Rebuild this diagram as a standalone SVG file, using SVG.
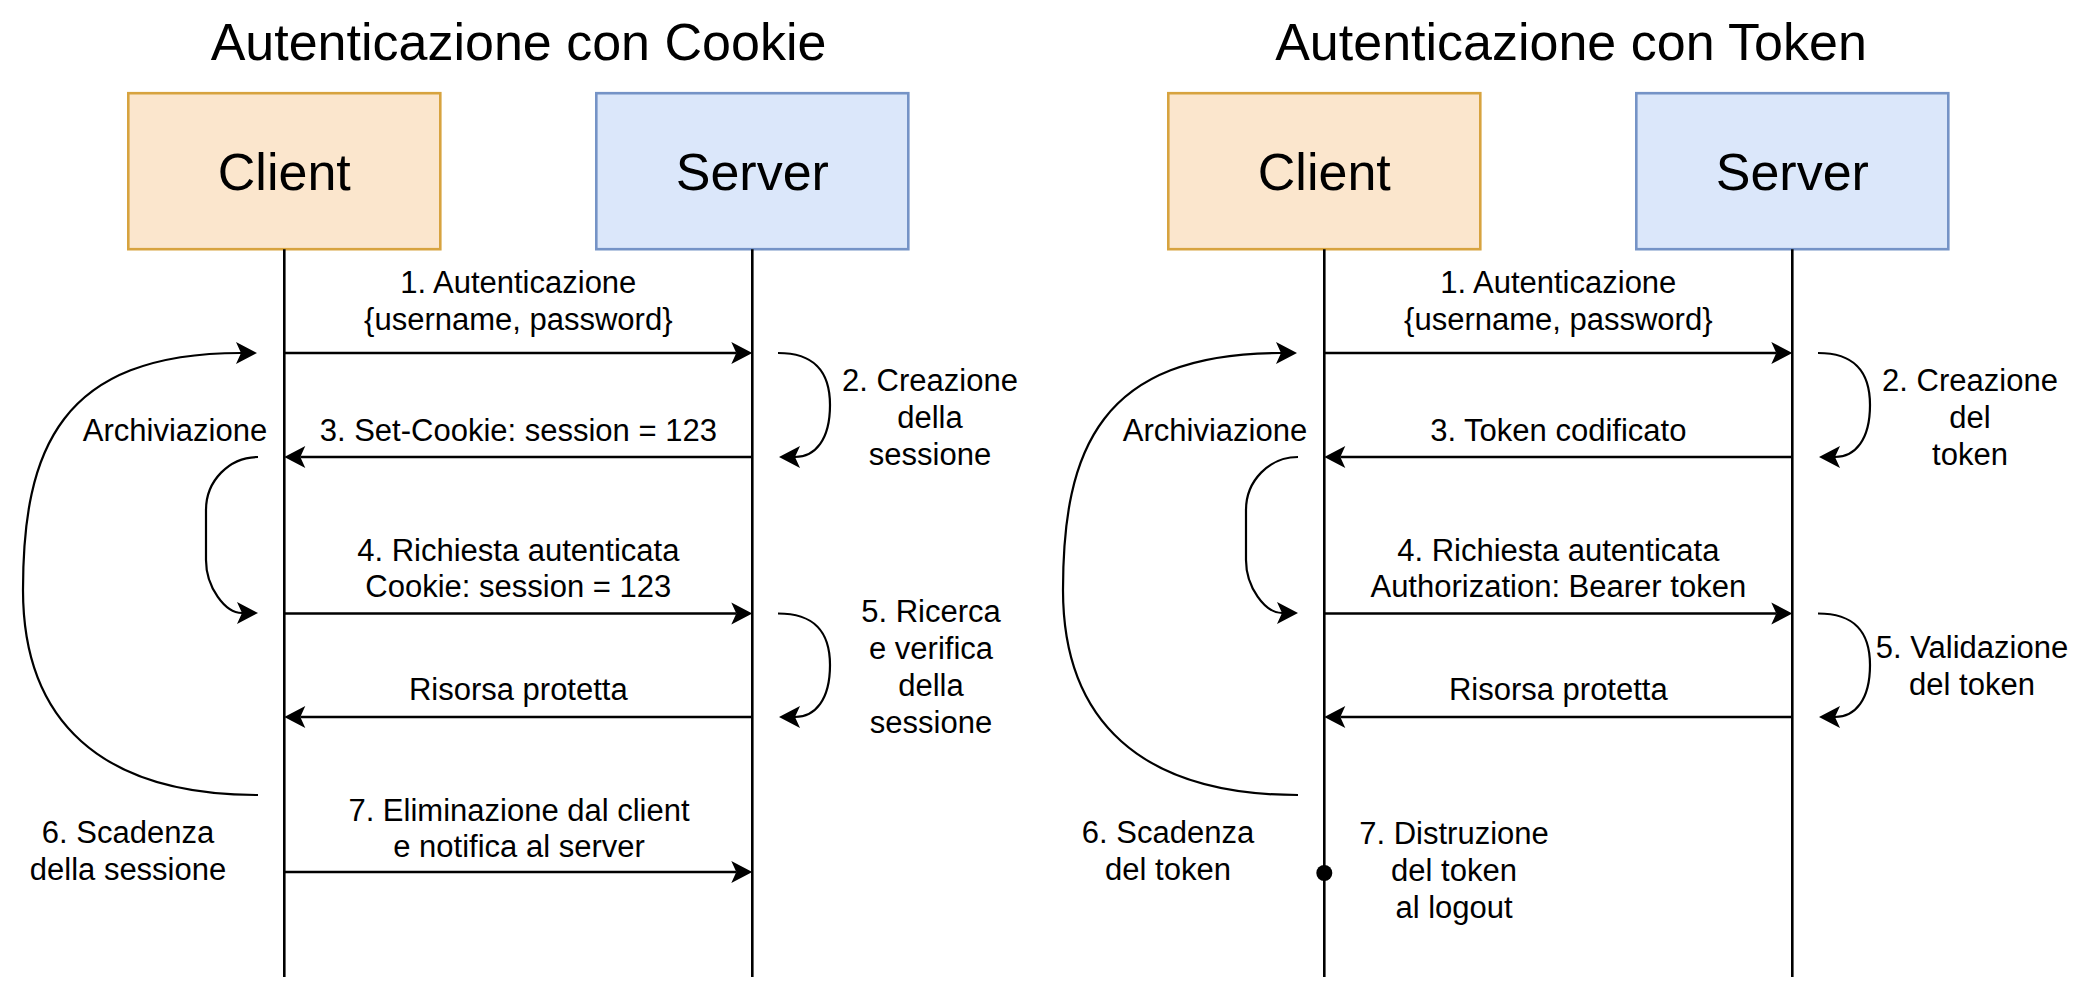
<svg xmlns="http://www.w3.org/2000/svg" width="2094" height="992" viewBox="0 0 2094 992">
<style>
text{font-family:"Liberation Sans",Arial,Helvetica,sans-serif;fill:#000}
.title{font-size:52px;text-anchor:middle}
.box{font-size:52px;text-anchor:middle}
.lbl{font-size:31px;text-anchor:middle}
.client{fill:#fbe6cd;stroke:#d7a33f;stroke-width:2.6}
.server{fill:#dbe7fa;stroke:#7593c6;stroke-width:2.6}
.ll{stroke:#000;stroke-width:2.6;fill:none}
.msg{stroke:#000;stroke-width:2.6;fill:none;marker-end:url(#arr)}
.cv{stroke:#000;stroke-width:2.2;fill:none;marker-end:url(#arr)}
</style>
<defs>
<marker id="arr" viewBox="-6 -12 24 24" refX="0" refY="0" markerWidth="24" markerHeight="24" markerUnits="userSpaceOnUse" orient="auto" overflow="visible">
<path d="M-5,-11 L16,0 L-5,11 L0,0 Z" fill="#000" stroke="none"/>
</marker>
</defs>
<rect width="2094" height="992" fill="#fff"/>

<text class="title" x="518.5" y="60">Autenticazione con Cookie</text>
<text class="title" x="1571" y="60">Autenticazione con Token</text>

<g id="cookie-client">
<rect class="client" x="128.3" y="93.2" width="312" height="156"/>
<text class="box" x="284.3" y="190">Client</text>
</g>
<g id="cookie-server">
<rect class="server" x="596.3" y="93.2" width="312" height="156"/>
<text class="box" x="752.3" y="190">Server</text>
</g>
<g id="token-client">
<rect class="client" x="1168.3" y="93.2" width="312" height="156"/>
<text class="box" x="1324.3" y="190">Client</text>
</g>
<g id="token-server">
<rect class="server" x="1636.3" y="93.2" width="312" height="156"/>
<text class="box" x="1792.3" y="190">Server</text>
</g>

<g id="connectors">
<!-- lifelines -->
<line class="ll" x1="284.3" y1="249.3" x2="284.3" y2="977"/>
<line class="ll" x1="752.3" y1="249.3" x2="752.3" y2="977"/>
<line class="ll" x1="1324.3" y1="249.3" x2="1324.3" y2="977"/>
<line class="ll" x1="1792.3" y1="249.3" x2="1792.3" y2="977"/>

<!-- cookie messages -->
<path class="msg" d="M284.3,353 H736.3"/>
<path class="msg" d="M752.3,457 H300.3"/>
<path class="msg" d="M284.3,613.5 H736.3"/>
<path class="msg" d="M752.3,717 H300.3"/>
<path class="msg" d="M284.3,872 H736.3"/>

<!-- cookie curves -->
<path class="cv" d="M778,353 C815,353 830,372 830,405 C830,440 815,457 795,457"/>
<path class="cv" d="M778,613.5 C815,613.5 830,632 830,665 C830,700 815,717 795,717"/>
<path class="cv" d="M258,457 C229,457 206,481 206,510 L206,560 C206,587 225,613 242,613"/>
<path class="cv" d="M258,795 C100,795 23,720 23,590 C23,450 60,353 241,353"/>

<!-- token messages -->
<path class="msg" d="M1324.3,353 H1776.3"/>
<path class="msg" d="M1792.3,457 H1340.3"/>
<path class="msg" d="M1324.3,613.5 H1776.3"/>
<path class="msg" d="M1792.3,717 H1340.3"/>

<!-- token curves -->
<path class="cv" d="M1818,353 C1855,353 1870,372 1870,405 C1870,440 1855,457 1835,457"/>
<path class="cv" d="M1818,613.5 C1855,613.5 1870,632 1870,665 C1870,700 1855,717 1835,717"/>
<path class="cv" d="M1298,457 C1269,457 1246,481 1246,510 L1246,560 C1246,587 1265,613 1282,613"/>
<path class="cv" d="M1298,795 C1140,795 1063,720 1063,590 C1063,450 1100,353 1281,353"/>

<circle cx="1324.3" cy="873" r="8" fill="#000"/>
</g>

<g id="labels">
<text class="lbl" x="518.3" y="293">1. Autenticazione</text>
<text class="lbl" x="518.3" y="330">{username, password}</text>
<text class="lbl" x="930" y="391">2. Creazione</text>
<text class="lbl" x="930" y="428">della</text>
<text class="lbl" x="930" y="465">sessione</text>
<text class="lbl" x="175" y="441">Archiviazione</text>
<text class="lbl" x="518.3" y="441">3. Set-Cookie: session = 123</text>
<text class="lbl" x="518.3" y="561">4. Richiesta autenticata</text>
<text class="lbl" x="518.3" y="597">Cookie: session = 123</text>
<text class="lbl" x="931" y="622">5. Ricerca</text>
<text class="lbl" x="931" y="659">e verifica</text>
<text class="lbl" x="931" y="696">della</text>
<text class="lbl" x="931" y="733">sessione</text>
<text class="lbl" x="518.3" y="700">Risorsa protetta</text>
<text class="lbl" x="128" y="843">6. Scadenza</text>
<text class="lbl" x="128" y="880">della sessione</text>
<text class="lbl" x="519" y="821">7. Eliminazione dal client</text>
<text class="lbl" x="519" y="857">e notifica al server</text>

<text class="lbl" x="1558.3" y="293">1. Autenticazione</text>
<text class="lbl" x="1558.3" y="330">{username, password}</text>
<text class="lbl" x="1970" y="391">2. Creazione</text>
<text class="lbl" x="1970" y="428">del</text>
<text class="lbl" x="1970" y="465">token</text>
<text class="lbl" x="1215" y="441">Archiviazione</text>
<text class="lbl" x="1558.3" y="441">3. Token codificato</text>
<text class="lbl" x="1558.3" y="561">4. Richiesta autenticata</text>
<text class="lbl" x="1558.3" y="597">Authorization: Bearer token</text>
<text class="lbl" x="1972" y="658">5. Validazione</text>
<text class="lbl" x="1972" y="695">del token</text>
<text class="lbl" x="1558.3" y="700">Risorsa protetta</text>
<text class="lbl" x="1168" y="843">6. Scadenza</text>
<text class="lbl" x="1168" y="880">del token</text>
<text class="lbl" x="1454" y="844">7. Distruzione</text>
<text class="lbl" x="1454" y="881">del token</text>
<text class="lbl" x="1454" y="918">al logout</text>
</g>
</svg>
